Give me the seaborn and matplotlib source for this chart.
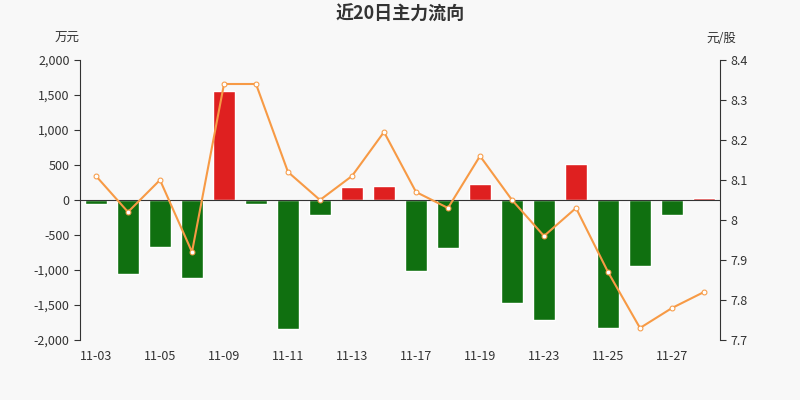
import matplotlib
matplotlib.use("Agg")
import matplotlib.pyplot as plt
import seaborn as sns
import pandas as pd
from matplotlib.ticker import FuncFormatter

dates = ["11-03", "11-04", "11-05", "11-06", "11-09", "11-10", "11-11", "11-12", "11-13", "11-16",
         "11-17", "11-18", "11-19", "11-20", "11-23", "11-24", "11-25", "11-26", "11-27", "11-30"]
flow = [-50, -1050, -670, -1110, 1560, -60, -1840, -220, 190, 200,
        -1020, -680, 230, -1470, -1710, 520, -1830, -940, -210, 30]
price = [8.11, 8.02, 8.10, 7.92, 8.34, 8.34, 8.12, 8.05, 8.11, 8.22,
         8.07, 8.03, 8.16, 8.05, 7.96, 8.03, 7.87, 7.73, 7.78, 7.82]

df = pd.DataFrame({"date": dates, "flow": flow, "price": price})
df["sign"] = ["pos" if v >= 0 else "neg" for v in df["flow"]]

sns.set_style("white")
plt.rcParams["font.family"] = ["Noto Sans CJK SC", "DejaVu Sans"]
bg = "#f8f8f8"

fig = plt.figure(figsize=(8, 4), dpi=100, facecolor=bg)
ax = fig.add_axes([0.1, 0.15, 0.8, 0.7], facecolor=bg)
sns.barplot(data=df, x="date", y="flow", hue="sign", palette={"pos": "#ff0000", "neg": "#008000"},
            width=0.7, dodge=False, legend=False, ax=ax)
ax.set_ylim(-2000, 2000)
ax.set_yticks(range(-2000, 2001, 500))
ax.yaxis.set_major_formatter(FuncFormatter(lambda v, p: f"{int(v):,}"))
ax.set_xlim(-0.5, len(dates) - 0.5)
ax.set_xticks(range(0, len(dates), 2))
ax.set_xticklabels(dates[::2])
ax.axhline(0, color="#333333", lw=0.8)
ax.set_xlabel("")
ax.set_ylabel("")
for s in ["top", "right", "bottom"]:
    ax.spines[s].set_visible(False)
ax.spines["left"].set_color("#333333")
ax.tick_params(axis="both", labelsize=9, colors="#333333", length=4, left=True, bottom=False)

ax2 = ax.twinx()
sns.lineplot(x=list(range(len(dates))), y=price, color="#f79a45", lw=1.5, marker="o",
             markersize=3.5, markerfacecolor="white", markeredgecolor="#f79a45", ax=ax2)
ax2.set_ylim(7.7, 8.4)
ax2.set_yticks([7.7, 7.8, 7.9, 8.0, 8.1, 8.2, 8.3, 8.4])
ax2.set_yticklabels(["7.7", "7.8", "7.9", "8", "8.1", "8.2", "8.3", "8.4"])
for s in ["top", "left", "bottom"]:
    ax2.spines[s].set_visible(False)
ax2.spines["right"].set_color("#333333")
ax2.tick_params(axis="y", labelsize=9, colors="#333333", length=4, right=True)

fig.text(0.5, 0.965, "近20日主力流向", ha="center", va="center", fontsize=13, fontweight="bold", color="#333333")
fig.text(0.1, 0.905, "万元", ha="right", va="center", fontsize=9, color="#333333")
fig.text(0.92, 0.905, "元/股", ha="right", va="center", fontsize=9, color="#333333")

fig.savefig("out.png", facecolor=bg)
